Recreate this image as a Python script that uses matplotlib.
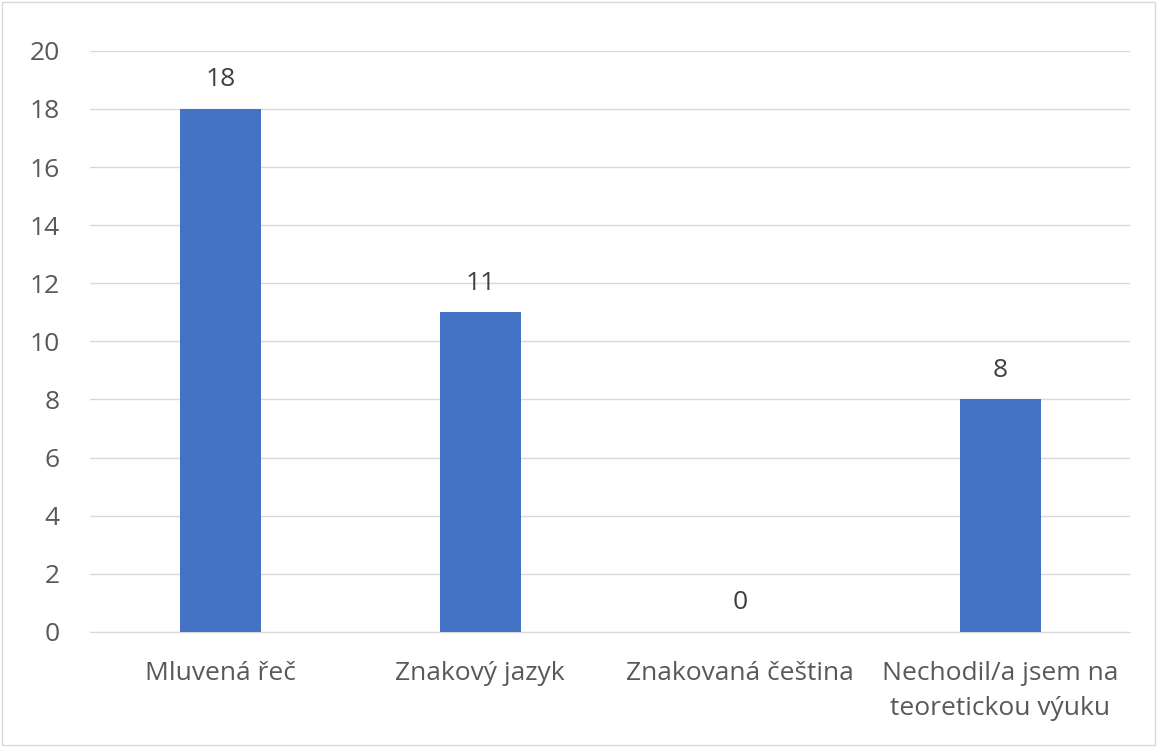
import matplotlib.pyplot as plt

categories = ["Mluvená řeč", "Znakový jazyk", "Znakovaná čeština", "Nechodil/a jsem na\nteoretickou výuku"]
values = [18, 11, 0, 8]
yticks = [0, 2, 4, 6, 8, 10, 12, 14, 16, 18, 20]

plt.rcParams['font.family'] = ['Open Sans', 'DejaVu Sans']
fig = plt.figure(figsize=(11.57, 7.47), dpi=100)
ax = fig.add_axes([0.078, 0.154, 0.899, 0.778])
x = range(len(categories))
bars = ax.bar(x, values, width=0.31, color='#4472C4', zorder=3)
for xi, v in zip(x, values):
    ax.annotate(str(v), (xi, v), xytext=(0, 12), textcoords='offset points',
                ha='center', va='bottom', fontsize=19, color='#404040')
ax.set_xlim(-0.5, 3.5)
ax.set_ylim(0, 20)
ax.set_yticks(yticks)
ax.set_xticks(list(x))
ax.set_xticklabels(categories, fontsize=19, color='#595959', linespacing=1.5)
ax.tick_params(axis='y', labelsize=19, labelcolor='#595959', length=0, pad=22)
ax.tick_params(axis='x', length=0, pad=21)
ax.grid(axis='y', color='#d9d9d9', linewidth=1, zorder=0)
for s in ['top', 'right', 'left']:
    ax.spines[s].set_visible(False)
ax.spines['bottom'].set_color('#d9d9d9')
fig.patches.append(plt.Rectangle((0.002, 0.003), 0.996, 0.994, transform=fig.transFigure,
                                 fill=False, edgecolor='#d9d9d9', linewidth=1))
fig.savefig('out.png', dpi=100)
